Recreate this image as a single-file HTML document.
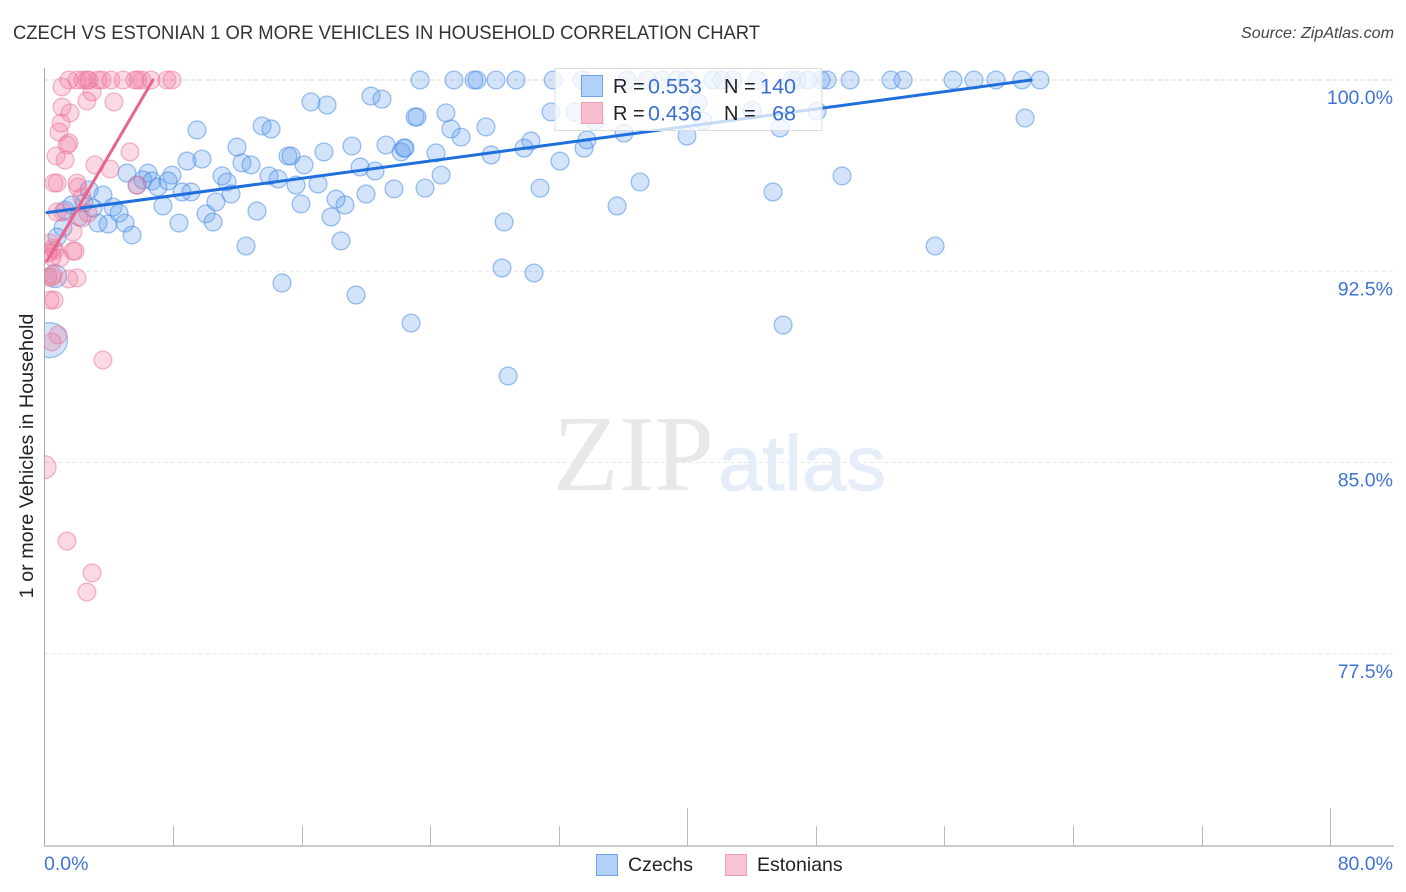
<!DOCTYPE html>
<html>
<head>
<meta charset="utf-8">
<title>Czech vs Estonian 1 or more vehicles in household correlation chart</title>
<style>
html,body{margin:0;padding:0;background:#fff;width:1406px;height:892px;overflow:hidden}
svg{display:block}
text{font-family:"Liberation Sans",sans-serif}
</style>
</head>
<body>
<svg id="chart" width="1406" height="892" viewBox="0 0 1406 892" xmlns="http://www.w3.org/2000/svg">
<defs><clipPath id="plot-clip"><rect x="44.5" y="60" width="1350" height="786"/></clipPath></defs>
<text x="13" y="39" font-size="19.5" fill="#333" textLength="747" lengthAdjust="spacingAndGlyphs">CZECH VS ESTONIAN 1 OR MORE VEHICLES IN HOUSEHOLD CORRELATION CHART</text>
<text x="1241" y="38" font-size="16" font-style="italic" fill="#444" textLength="153" lengthAdjust="spacingAndGlyphs">Source: ZipAtlas.com</text>
<g id="grid"></g>
<g>
<text x="553" y="490" style="font-family:'Liberation Serif',serif" font-size="108" fill="#e8e8e8" textLength="161" lengthAdjust="spacingAndGlyphs">ZIP</text>
<text x="718" y="490" font-size="78" fill="#e5edf9" stroke="#e5edf9" stroke-width="1" textLength="168" lengthAdjust="spacingAndGlyphs">atlas</text>
</g>
<g id="axes"></g>
<g id="marks" clip-path="url(#plot-clip)"></g>
<text transform="translate(33,456) rotate(-90)" font-size="19.8" fill="#222" text-anchor="middle">1 or more Vehicles in Household</text>
<g>
<rect x="555" y="68.5" width="267" height="62" fill="#fff" fill-opacity="0.75" stroke="#dcdcdc" stroke-width="1"/>
<rect x="581.5" y="75.5" width="21" height="21" fill="#b3d1f7" stroke="#6fa3e6"/>
<rect x="581.5" y="102.5" width="21" height="21" fill="#f9bdd0" stroke="#f09ab5"/>
<text x="613" y="93" font-size="20" fill="#222">R =</text>
<text x="648" y="93.5" font-size="21.5" fill="#3a6fd0">0.553</text>
<text x="724" y="93" font-size="20" fill="#222">N =</text>
<text x="796" y="93.5" font-size="21.5" fill="#3a6fd0" text-anchor="end">140</text>
<text x="613" y="120" font-size="20" fill="#222">R =</text>
<text x="648" y="120.5" font-size="21.5" fill="#3a6fd0">0.436</text>
<text x="724" y="120" font-size="20" fill="#222">N =</text>
<text x="796" y="120.5" font-size="21.5" fill="#3a6fd0" text-anchor="end">68</text>
</g>
<g>
<rect x="596.5" y="854.5" width="21" height="21" fill="#b3d1f7" stroke="#6fa3e6"/>
<text x="628" y="871" font-size="19.5" fill="#222">Czechs</text>
<rect x="725.5" y="854.5" width="21" height="21" fill="#f9c3d5" stroke="#f09ab5"/>
<text x="757" y="871" font-size="19.5" fill="#222">Estonians</text>
</g>
</svg>
<script>
const czechX = [9.49,11.98,8.87,9.8,12.29,12.85,13.54,14.1,16.58,17.58,20.32,21.0,23.06,15.15,15.34,16.15,17.39,19.13,21.25,22.37,22.19,11.05,11.36,11.61,10.67,10.05,10.49,13.22,13.97,14.53,15.65,17.02,15.96,18.14,18.7,17.83,18.45,19.64,20.57,20.01,21.75,12.54,14.78,19.39,22.81,7.93,8.37,8.56,9.12,23.68,23.18,24.98,25.29,25.92,27.47,22.44,24.36,24.68,27.79,29.84,30.27,32.08,30.84,28.6,28.47,30.46,35.63,37.06,33.57,33.76,36.06,31.52,33.01,34.26,40.67,44.03,40.98,45.77,48.08,39.98,45.33,49.63,55.42,45.96,28.85,61.02,5.13,6.44,6.13,6.69,5.76,7.06,7.69,7.37,3.64,2.77,4.26,4.64,5.01,5.45,3.33,3.95,3.02,2.46,2.15,1.71,1.28,1.15,0.78,23.37,25.48,26.73,26.91,28.1,29.34,31.65,33.45,36.25,37.5,38.43,39.36,39.98,41.6,42.16,42.85,44.34,46.52,46.83,47.51,48.32,48.7,50.13,52.68,53.43,56.53,57.84,59.21,60.83,61.95];
const czechY = [98.04,97.37,96.82,96.9,96.75,96.67,98.2,98.08,99.14,99.02,99.37,99.25,98.55,97.02,97.02,96.67,97.18,97.41,97.45,97.33,97.18,96.24,96,95.53,95.22,94.75,94.43,94.86,96.24,96.12,95.88,95.92,95.14,95.33,95.1,94.63,93.69,96.59,96.43,95.53,95.73,93.49,92.04,91.57,90.47,96.27,94.39,95.61,95.61,95.76,98.55,98.71,98.08,97.76,98.16,97.33,97.14,96.27,97.06,97.33,97.61,96.82,95.76,94.43,92.63,92.43,95.06,96,97.33,97.65,97.92,98.75,98.75,98.39,99.1,98.82,98.39,98.12,98.78,97.8,95.61,96.24,93.49,90.39,88.39,98.51,96.35,96.35,96.08,96.04,95.88,95.8,96.04,95.06,95.49,95.69,95.02,94.78,94.39,93.92,94.39,94.35,94.98,95.18,94.63,95.1,94.9,94.2,93.84,100,100,100,100,100,100,100,100,100,100,100,100,100,100,100,100,100,100,100,100,100,100,100,100,100,100,100,100,100,100];
const czechLargeX = [0.34,0.65];
const czechLargeY = [89.8,92.31];
const estonianX = [1.52,2.02,2.4,2.64,2.77,3.33,3.58,4.14,4.89,5.63,5.82,6.07,6.63,7.62,7.93,1.09,2.96,2.64,4.32,1.09,1.59,1.03,0.9,1.52,1.4,0.72,1.28,5.32,3.14,4.08,0.78,0.59,2.02,2.08,5.76,2.33,1.15,0.78,2.33,2.71,1.77,1.77,1.9,0.96,0.53,0.34,0.65,0.22,0.47,1.52,2.02,0.47,0.53,0.22,0.59,0.34,0.84,0.47,3.64,1.4,2.96,2.64];
const estonianY = [100,100,100,100,100,100,100,100,100,100,100,100,100,100,100,99.73,99.53,99.18,99.14,98.94,98.71,98.31,97.96,97.53,97.45,97.02,96.86,97.18,96.67,96.51,95.96,95.96,95.96,95.8,95.88,95.41,94.82,94.82,94.59,94.78,94.04,93.29,93.29,93.02,93.41,93.61,93.33,93.22,93.06,92.2,92.24,92.27,92.35,92.27,91.37,91.37,90,89.73,89.02,81.92,80.67,79.92];
const estonianLargeX = [0];
const estonianLargeY = [84.82];
const czechTrendX = [0.15,61.4];
const czechTrendY = [94.8,100];
const estonianTrendX = [0.15,6.75];
const estonianTrendY = [92.9,100];
const yTickValues = [100,92.5,85,77.5];
const yTickLabels = ['100.0%','92.5%','85.0%','77.5%'];
const xTickValues = [0,8,16,24,32,40,48,56,64,72,80];
const xMajorTicks = [40,80];
const xEdgeLabels = ['0.0%','80.0%'];

const NS = 'http://www.w3.org/2000/svg';
const xScale = v => 44.5 + v * 16.07;
const yScale = v => 80 + (100 - v) * 25.5;
function make(tag, attrs, parent) {
  const el = document.createElementNS(NS, tag);
  for (const k in attrs) el.setAttribute(k, attrs[k]);
  parent.appendChild(el);
  return el;
}
const grid = document.getElementById('grid');
const axes = document.getElementById('axes');
const marks = document.getElementById('marks');

yTickValues.forEach((v, i) => {
  const line = make('line', {x1: 44.5, x2: 1394, y1: yScale(v), y2: yScale(v), stroke: i === 0 ? '#d4d4d4' : '#e6e6e6', 'stroke-dasharray': '4 3'}, grid);
  
  
  const label = make('text', {x: 1393, y: yScale(v) + 24, 'font-size': 19.5, fill: '#3f74d6', 'text-anchor': 'end'}, axes);
  label.textContent = yTickLabels[i];
  
  
});

const yAxis = make('line', {x1: 44.5, x2: 44.5, y1: 68, y2: 846, stroke: '#aaa', 'stroke-width': 1}, axes);


const xAxis = make('line', {x1: 44, x2: 1394, y1: 846, y2: 846, stroke: '#bbb', 'stroke-width': 1.5}, axes);



xTickValues.forEach(v => {
  if (v === 0) return;
  const px = Math.round(xScale(v)) + 0.5;
  const tick = make('line', {x1: px, x2: px, y1: xMajorTicks.includes(v) ? 808 : 826, y2: 846, stroke: '#bbb', 'stroke-width': 1}, axes);
  
  
});

const xLabelLeft = make('text', {x: 44, y: 870, 'font-size': 19.5, fill: '#3f74d6'}, axes);
xLabelLeft.textContent = xEdgeLabels[0];


const xLabelRight = make('text', {x: 1393, y: 870, 'font-size': 19.5, fill: '#3f74d6', 'text-anchor': 'end'}, axes);
xLabelRight.textContent = xEdgeLabels[1];



const blueStyle = {fill: '#5c9bee', 'fill-opacity': 0.27, stroke: '#4a8ce6', 'stroke-opacity': 0.55, 'stroke-width': 1.3};
const pinkStyle = {fill: '#f2789c', 'fill-opacity': 0.28, stroke: '#ea7a9c', 'stroke-opacity': 0.55, 'stroke-width': 1.3};

function drawPoints(xs, ys, r, style, name) {
  xs.forEach((v, i) => {
    const c = make('circle', Object.assign({cx: xScale(v), cy: yScale(ys[i]), r: r}, style), marks);
    
    
  });
}
drawPoints(czechX, czechY, 8.9, blueStyle, 'czech-point');
drawPoints(czechLargeX.slice(0, 1), czechLargeY.slice(0, 1), 17.5, blueStyle, 'czech-point-large');
drawPoints(czechLargeX.slice(1), czechLargeY.slice(1), 11.5, blueStyle, 'czech-point-large');
drawPoints(estonianX, estonianY, 8.9, pinkStyle, 'estonian-point');
drawPoints(estonianLargeX, estonianLargeY, 11.5, pinkStyle, 'estonian-point-large');

const czechTrend = make('line', {x1: xScale(czechTrendX[0]), y1: yScale(czechTrendY[0]), x2: xScale(czechTrendX[1]), y2: yScale(czechTrendY[1]), stroke: '#1f6fdc', 'stroke-width': 3, 'stroke-linecap': 'round'}, marks);


const estonianTrend = make('line', {x1: xScale(estonianTrendX[0]), y1: yScale(estonianTrendY[0]), x2: xScale(estonianTrendX[1]), y2: yScale(estonianTrendY[1]), stroke: '#e8648e', 'stroke-width': 3, 'stroke-linecap': 'round'}, marks);


</script>
</body>
</html>
